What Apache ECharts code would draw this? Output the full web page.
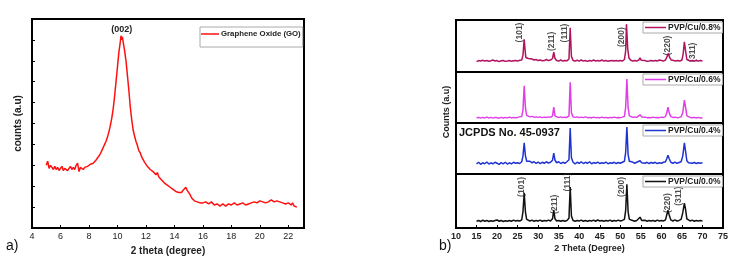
<!DOCTYPE html>
<html>
<head>
<meta charset="utf-8">
<script src="https://cdn.jsdelivr.net/npm/echarts@6/dist/echarts.min.js"></script>
<style>
  html, body { margin: 0; padding: 0; background: #fff; }
  #main { width: 736px; height: 264px; }
</style>
</head>
<body>
<div id="main"></div>
<script>
// 图 a) GO 的 XRD 数据 [2theta, 相对强度]
var goData = [
  [5.0,30],[5.1,32],[5.2,28.5],[5.3,30],[5.4,29],[5.5,28],[5.6,29.5],[5.7,28],[5.8,29],[5.9,27.5],
  [6.0,28.5],[6.1,29.5],[6.2,27.5],[6.3,28.5],[6.4,29],[6.5,27.5],[6.6,28.5],[6.7,29.5],[6.8,28],[6.9,29],
  [7.0,28],[7.1,30],[7.2,31],[7.3,27],[7.4,29],[7.5,28.5],[7.6,28],[7.7,29],[7.8,28.5],[7.9,29.5],
  [8.0,29],[8.1,30.5],[8.2,30],[8.3,31],[8.4,31.5],[8.5,32.5],[8.6,33.5],[8.7,34],[8.8,35.5],[8.9,37],
  [9.0,38.5],[9.1,40],[9.2,41.5],[9.3,43.5],[9.4,46],[9.5,49],[9.6,52.5],[9.7,57],[9.8,63],[9.9,70],
  [10.0,77],[10.1,84],[10.2,89],[10.25,92],[10.3,90],[10.35,91.5],[10.4,89],[10.5,85],[10.6,80],[10.7,73],
  [10.8,66],[10.9,58],[11.0,52],[11.1,47],[11.2,44],[11.3,41.5],[11.4,39.5],[11.5,37],[11.6,36],[11.7,34],
  [11.8,33.5],[11.9,31.5],[12.0,31],[12.1,29.5],[12.2,30],[12.3,28],[12.4,28.5],[12.5,27],[12.6,27.5],[12.7,25.5],
  [12.8,26.5],[12.9,24.5],[13.0,24],[13.1,23],[13.2,23.5],[13.3,21.5],[13.4,22],[13.5,20.5],[13.6,21],[13.7,19.5],
  [13.8,20],[13.9,18.5],[14.0,19],[14.1,17.5],[14.2,18],[14.3,17],[14.4,17.5],[14.5,17],[14.6,18],[14.7,18.5],
  [14.8,19.5],[14.9,18],[15.0,18.5],[15.1,16],[15.2,14.5],[15.3,14],[15.4,13],[15.5,13.5],[15.6,12.5],[15.7,13],
  [15.8,12],[15.9,12.5],[16.0,12],[16.2,12.5],[16.4,11.5],[16.6,12.5],[16.8,11],[17.0,11.5],[17.2,10.5],[17.4,11.5],
  [17.6,10.5],[17.8,11.5],[18.0,11],[18.2,12],[18.4,11],[18.6,11.5],[18.8,12],[19.0,11],[19.2,11.5],[19.4,12],
  [19.6,12.5],[19.8,12],[20.0,13],[20.2,12.5],[20.4,12],[20.6,12.5],[20.8,13.5],[21.0,12.5],[21.2,13],[21.4,12.5],
  [21.6,12],[21.8,11.5],[22.0,12],[22.2,11],[22.3,12],[22.4,10.5],[22.5,11],[22.6,10]
];

// 图 b) PVP/Cu 四条曲线
var cu08 = [
  [15,20],[15.5,22],[16,21],[16.5,22.5],[17,21],[17.5,22],[18,20.5],[18.5,21.5],[19,23],[19.5,21],
  [20,22],[20.5,20],[21,21.5],[21.5,22],[22,20.5],[22.5,21],[23,22],[23.5,20.5],[24,21.5],[24.5,22],
  [25,21],[25.5,22.5],[26,23],[26.3,32],[26.6,63],[26.8,44],[27,28],[27.3,25],[27.6,26],[28,24],
  [28.5,25],[29,23],[29.5,24],[30,22],[30.5,23],[31,21.5],[31.5,22],[32,24],[32.5,22],[33,23],
  [33.5,26],[33.8,38],[34.1,26],[34.5,22],[35,21],[35.5,23],[36,21],[36.5,22],[37,21.5],[37.5,25],
  [37.8,85],[38.1,30],[38.5,22],[39,21],[39.5,22.5],[40,21],[40.5,23],[41,21],[41.5,22],[42,20.5],
  [42.5,22],[43,21],[43.5,23],[44,21],[44.5,22],[45,21],[45.5,23],[46,21],[46.5,22],[47,20.5],
  [47.5,21.5],[48,22],[48.5,21],[49,22],[49.5,21],[50,22],[50.5,21],[51,24],[51.3,40],[51.5,92],
  [51.8,45],[52.1,27],[52.5,23],[53,21],[53.5,22],[54,21],[54.5,23],[54.8,27],[55.1,22.5],[55.5,21],
  [56,22],[56.5,20.5],[57,21],[57.5,22],[58,21],[58.5,22],[59,21],[59.5,23],[60,22],[60.5,21],
  [61,23],[61.4,30],[61.7,36],[62,28],[62.4,23],[63,22],[63.5,21],[64,22],[64.5,21],[65,23],
  [65.3,35],[65.6,58],[65.9,40],[66.2,24],[66.6,22],[67,21],[67.5,22],[68,21],[68.5,22],[69,21],
  [69.5,22],[70,21]
];
var cu06 = [
  [15,10],[15.5,11],[16,9.5],[16.5,11],[17,10],[17.5,11.5],[18,10],[18.5,11],[19,9.5],[19.5,11],
  [20,10.5],[20.5,9.5],[21,11],[21.5,10],[22,11],[22.5,10],[23,11.5],[23.5,10],[24,11],[24.5,10.5],
  [25,11],[25.5,12],[26,13],[26.3,25],[26.6,73],[26.9,30],[27.2,15],[27.6,13],[28,12],[28.5,13],
  [29,11.5],[29.5,12],[30,11],[30.5,12],[31,10.5],[31.5,11.5],[32,11],[32.5,12],[33,11],[33.5,14],
  [33.8,31],[34.1,14],[34.5,11],[35,10.5],[35.5,12],[36,10.5],[36.5,11.5],[37,11],[37.5,14],[37.8,80],
  [38.1,20],[38.5,12],[39,11],[39.5,12],[40,10.5],[40.5,11.5],[41,10.5],[41.5,12],[42,10.5],[42.5,11],
  [43,10],[43.5,11.5],[44,10.5],[44.5,11],[45,10],[45.5,11.5],[46,10.5],[46.5,11],[47,10],[47.5,11],
  [48,10.5],[48.5,11.5],[49,10.5],[49.5,11],[50,10.5],[50.5,11.5],[51,13],[51.3,30],[51.6,86],[51.9,30],
  [52.2,14],[52.6,11.5],[53,11],[53.5,12],[54,11],[54.4,13],[54.8,16],[55.2,12],[55.6,11],[56,11.5],
  [56.5,10.5],[57,11],[57.5,10.5],[58,11.5],[58.5,10.5],[59,11],[59.5,10.5],[60,11.5],[60.5,11],[61,12.5],
  [61.3,20],[61.6,31],[61.9,20],[62.3,12.5],[62.8,11],[63.3,11.5],[63.8,10.5],[64.3,11],[64.8,12],[65.2,20],
  [65.6,45],[65.9,30],[66.2,14],[66.6,11.5],[67,11],[67.5,10.5],[68,11],[68.5,10],[69,11],[69.5,10],
  [70,10.5]
];
var cu04 = [
  [15,20],[15.5,23],[16,19],[16.5,22],[17,20],[17.5,23.5],[18,19.5],[18.5,22],[19,20],[19.5,23],
  [20,21],[20.5,19],[21,22.5],[21.5,20],[22,23],[22.5,19.5],[23,22],[23.5,20],[24,23],[24.5,21],
  [25,22],[25.5,20.5],[26,24],[26.3,35],[26.6,61],[26.9,36],[27.2,25],[27.6,23],[28,25],[28.5,22],
  [29,24],[29.5,21],[30,23.5],[30.5,20.5],[31,23],[31.5,21],[32,24],[32.5,21.5],[33,23],[33.5,27],
  [33.8,41],[34.1,27],[34.5,22],[35,24],[35.5,20.5],[36,23],[36.5,21],[37,24],[37.5,28],[37.8,90],
  [38.1,32],[38.5,23],[39,20],[39.5,23],[40,21],[40.5,24],[41,20.5],[41.5,23],[42,21],[42.5,24],
  [43,20],[43.5,22.5],[44,21],[44.5,23.5],[45,20.5],[45.5,22],[46,21],[46.5,23.5],[47,20],[47.5,22],
  [48,21],[48.5,23],[49,20.5],[49.5,22.5],[50,21],[50.5,23],[51,25],[51.3,42],[51.6,92],[51.9,38],
  [52.2,25],[52.6,22],[53,23.5],[53.5,21],[54,23],[54.4,22],[54.8,26],[55.2,22],[55.6,23.5],[56,21],
  [56.5,23],[57,20.5],[57.5,22.5],[58,21],[58.5,23],[59,20.5],[59.5,22],[60,21],[60.5,23],[61,24],
  [61.3,30],[61.6,37],[61.9,30],[62.3,23],[62.8,21],[63.3,23.5],[63.8,21],[64.3,22.5],[64.8,24],[65.2,35],
  [65.6,61],[65.9,44],[66.2,26],[66.6,22],[67,23.5],[67.5,21],[68,22.5],[68.5,20.5],[69,22],[69.5,21],
  [70,22]
];
var cu00 = [
  [15,12.5],[15.5,14],[16,12],[16.5,14.5],[17,12.5],[17.5,14],[18,12],[18.5,13.5],[19,12.5],[19.5,14],
  [20,15],[20.5,12.5],[21,14],[21.5,12],[22,13.5],[22.5,12.5],[23,14],[23.5,12.5],[24,14.5],[24.5,13],
  [25,14],[25.5,13],[26,15],[26.3,30],[26.6,65],[26.9,30],[27.2,16],[27.6,14],[28,13],[28.5,14.5],
  [29,12.5],[29.5,14],[30,13],[30.5,14.5],[31,12.5],[31.5,14],[32,13],[32.5,14.5],[33,13],[33.5,17],
  [33.8,33],[34.1,17],[34.5,13],[35,14],[35.5,12.5],[36,14],[36.5,12.5],[37,14],[37.5,18],[37.8,76],
  [38.1,22],[38.5,14],[39,12.5],[39.5,14],[40,13],[40.5,14.5],[41,12.5],[41.5,14],[42,12.5],[42.5,14],
  [43,13],[43.5,14.5],[44,12.5],[44.5,15],[45,13],[45.5,14],[46,12.5],[46.5,14],[47,13],[47.5,14.5],
  [48,12.5],[48.5,14],[49,13],[49.5,14.5],[50,13],[50.5,14],[51,16],[51.3,32],[51.6,81],[51.9,30],
  [52.2,16],[52.6,13.5],[53,14],[53.5,12.5],[54,14],[54.4,15],[54.8,20],[55.2,14],[55.6,13],[56,14.5],
  [56.5,12.5],[57,14],[57.5,13],[58,14],[58.5,12.5],[59,14.5],[59.5,13],[60,14],[60.5,13],[61,15],
  [61.3,24],[61.6,33],[61.9,24],[62.3,15],[62.8,13],[63.3,15],[63.8,13],[64.3,14],[64.8,16],[65.2,28],
  [65.6,46],[65.9,34],[66.2,17],[66.6,14],[67,13],[67.5,14.5],[68,12.5],[68.5,14],[69,13],[69.5,14],
  [70,13]
];

var seriesNames = ['PVP/Cu/0.8%', 'PVP/Cu/0.6%', 'PVP/Cu/0.4%', 'PVP/Cu/0.0%'];
var seriesData = [cu08, cu06, cu04, cu00];
var seriesColors = ['#b0135f', '#e23ee8', '#1f33d3', '#111111'];

// 晶面标注 [x, y, 文字]
var topHkl = [[25.6,76,'(101)'],[33.2,59,'(211)'],[36.4,75,'(111)'],[50.3,67,'(200)'],[61.6,51,'(220)'],[67.5,38,'(311)']];
var bottomHkl = [[26.0,76,'(101)'],[33.9,44,'(211)'],[37.2,85,'(111)'],[50.4,76,'(200)'],[61.6,46,'(220)'],[64.2,59,'(311)']];

var FONT = 'Arial, "Liberation Sans", sans-serif';
var myChart = echarts.init(document.getElementById('main'));

// 四个小图的位置
var bTops = [20, 72, 123, 174];
var bHeights = [52, 51, 51, 54];

var grids = [{ left: 32, top: 19, width: 272, height: 209, show: true, borderColor: '#000', borderWidth: 2 }];
var xAxes = [{
  gridIndex: 0, type: 'value', min: 4, max: 23.1, interval: 2,
  axisLine: { show: false },
  axisTick: { inside: true, length: 3, lineStyle: { color: '#000' } },
  axisLabel: { showMaxLabel: false, fontSize: 9, color: '#222', fontFamily: FONT, margin: 4 },
  splitLine: { show: false },
  name: '2 theta (degree)', nameLocation: 'middle', nameGap: 17,
  nameTextStyle: { fontSize: 10, fontWeight: 'bold', color: '#222', fontFamily: FONT }
}];
var yAxes = [{
  gridIndex: 0, type: 'value', min: 0, max: 100, interval: 10,
  axisLine: { show: false },
  axisTick: { inside: true, length: 3, lineStyle: { color: '#000' } },
  axisLabel: { show: false },
  splitLine: { show: false },
  name: 'counts (a.u)', nameLocation: 'middle', nameGap: 9,
  nameTextStyle: { fontSize: 10, fontWeight: 'bold', color: '#222', fontFamily: FONT }
}];
var series = [{
  name: 'Graphene Oxide (GO)', type: 'line', xAxisIndex: 0, yAxisIndex: 0,
  data: goData, symbol: 'none', lineStyle: { color: '#ff1010', width: 1.5 },
  itemStyle: { color: '#ff1010' },
  markPoint: {
    symbol: 'circle', symbolSize: 0,
    label: { show: true, formatter: '(002)', fontSize: 9, fontWeight: 'bold', color: '#222', fontFamily: FONT },
    data: [{ coord: [10.3, 95] }]
  }
}];
var legends = [{
  data: ['Graphene Oxide (GO)'], left: 200, top: 27, orient: 'vertical',
  icon: 'rect', itemWidth: 18, itemHeight: 1.5, itemGap: 0,
  padding: [3, 2, 9, 1], borderColor: '#aaa', borderWidth: 1, backgroundColor: '#fff',
  textStyle: { fontSize: 7.8, fontWeight: 'bold', color: '#222', fontFamily: FONT, padding: [0, 0, 0, -3] }
}];

for (var i = 0; i < 4; i++) {
  var last = (i === 3);
  grids.push({ left: 456, top: bTops[i], width: 267, height: bHeights[i], show: true, borderColor: '#000', borderWidth: 2 });
  xAxes.push({
    gridIndex: i + 1, type: 'value', min: 10, max: 75, interval: 5,
    axisLine: { show: false },
    axisTick: { show: last, inside: true, length: 3, lineStyle: { color: '#000' } },
    axisLabel: { show: last, fontSize: 9, fontWeight: 'bold', color: '#222', fontFamily: FONT, margin: 4 },
    splitLine: { show: false },
    name: last ? '2 Theta (Degree)' : '', nameLocation: 'middle', nameGap: 16,
    nameTextStyle: { fontSize: 9, fontWeight: 'bold', color: '#222', fontFamily: FONT }
  });
  yAxes.push({
    gridIndex: i + 1, type: 'value', min: 0, max: 100,
    axisLine: { show: false }, axisTick: { show: false }, axisLabel: { show: false }, splitLine: { show: false }
  });
  series.push({
    name: seriesNames[i], type: 'line', xAxisIndex: i + 1, yAxisIndex: i + 1,
    data: seriesData[i], symbol: 'none',
    lineStyle: { color: seriesColors[i], width: 1.5 }, itemStyle: { color: seriesColors[i] }
  });
  legends.push({
    data: [seriesNames[i]], left: 643, top: bTops[i] + 2, orient: 'vertical',
    icon: 'rect', itemWidth: 21, itemHeight: 1.5, itemGap: 0,
    padding: [1, 2, 1, 2], borderColor: '#aaa', borderWidth: 1, backgroundColor: '#fff',
    textStyle: { fontSize: 8.5, fontWeight: 'bold', color: '#222', fontFamily: FONT, padding: [0, 0, 0, -3] }
  });
}

// 晶面标注用 scatter 的 label
function hklSeries(idx, arr) {
  return {
    type: 'scatter', xAxisIndex: idx, yAxisIndex: idx, silent: true,
    symbolSize: 1, itemStyle: { color: 'rgba(0,0,0,0)' },
    data: arr,
    label: {
      show: true, position: 'inside', rotate: 90,
      formatter: function (p) { return p.data[2]; },
      fontSize: 8.5, fontWeight: 'bold', color: '#222', fontFamily: FONT
    }
  };
}
series.push(hklSeries(1, topHkl));
series.push(hklSeries(4, bottomHkl));

myChart.setOption({
  animation: false,
  grid: grids,
  xAxis: xAxes,
  yAxis: yAxes,
  legend: legends,
  series: series,
  graphic: [
    { type: 'text', left: 6, top: 239, style: { text: 'a)', fontSize: 14, fill: '#111', fontFamily: FONT } },
    { type: 'text', left: 439, top: 239, style: { text: 'b)', fontSize: 14, fill: '#111', fontFamily: FONT } },
    { type: 'text', x: 447, y: 112, rotation: Math.PI / 2,
      style: { text: 'Counts (a.u)', fontSize: 9, fontWeight: 'bold', fill: '#222', fontFamily: FONT, align: 'center', verticalAlign: 'middle' } },
    { type: 'text', left: 459, top: 127, z: 10,
      style: { text: 'JCPDS No. 45-0937', fontSize: 11, fontWeight: 'bold', fill: '#111', fontFamily: FONT } }
  ]
});
</script>
</body>
</html>
